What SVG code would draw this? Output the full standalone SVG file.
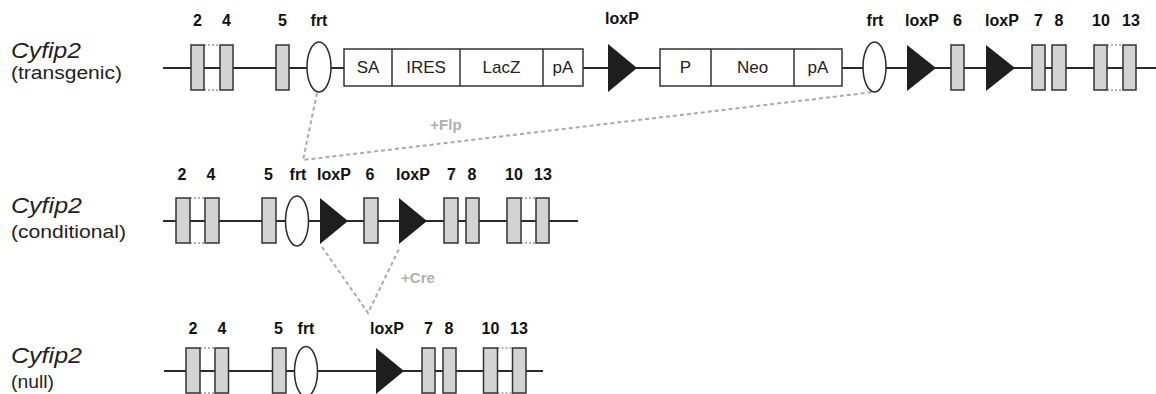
<svg xmlns="http://www.w3.org/2000/svg" width="1156" height="394" viewBox="0 0 1156 394">
<style>
.bg{fill:#fff}
.ln{stroke:#2a2a2a;stroke-width:1.8;fill:none}
.ex{fill:#d3d3d3;stroke:#333;stroke-width:1.5}
.br{stroke:#999;stroke-width:1.3;stroke-dasharray:2,2;fill:none}
.frt{fill:#fff;stroke:#2a2a2a;stroke-width:1.5}
.lox{fill:#1e1e1e}
.box{fill:#fff;stroke:#333;stroke-width:1.5}
.dv{stroke:#333;stroke-width:1.5}
.bt{font-family:"Liberation Sans",Arial,sans-serif;font-size:17px;fill:#222;text-anchor:middle}
.lb{font-family:"Liberation Sans",Arial,sans-serif;font-size:16px;font-weight:bold;fill:#111;text-anchor:middle}
.gn{font-family:"Liberation Sans",Arial,sans-serif;font-size:22px;font-style:italic;fill:#222}
.sub{font-family:"Liberation Sans",Arial,sans-serif;font-size:18px;fill:#222}
.dash{stroke:#aaa;stroke-width:2;stroke-dasharray:4,3;fill:none}
.op{font-family:"Liberation Sans",Arial,sans-serif;font-size:15px;font-weight:bold;fill:#b0b0b0;text-anchor:middle}
</style>
<rect class="bg" x="0" y="0" width="1156" height="394"/>

<g id="connectors">
<polyline class="dash" points="317,93 303,160 874,92"/>
<polyline class="dash" points="322,247 368,313 400,247"/>
<text class="op" x="446" y="130">+Flp</text>
<text class="op" x="418" y="283">+Cre</text>
</g>

<!-- Row 1: transgenic -->
<g id="row-transgenic">
<text class="gn" x="11" y="58" textLength="70" lengthAdjust="spacingAndGlyphs">Cyfip2</text>
<text class="sub" x="11" y="79" textLength="111" lengthAdjust="spacingAndGlyphs">(transgenic)</text>
<line class="ln" x1="163" y1="68" x2="1156" y2="68"/>
<g id="t-ex2-4">
<line class="br" x1="204" y1="45" x2="220" y2="45"/><line class="br" x1="204" y1="90" x2="220" y2="90"/>
<rect class="ex" x="191" y="45" width="13" height="45"/><rect class="ex" x="220" y="45" width="13" height="45"/>
<text class="lb" x="197.5" y="26">2</text><text class="lb" x="226.5" y="26">4</text>
</g>
<g id="t-ex5"><rect class="ex" x="276" y="45" width="13" height="45"/><text class="lb" x="282.5" y="26">5</text></g>
<g id="t-frt1"><ellipse class="frt" cx="319" cy="67" rx="12" ry="25"/><text class="lb" x="319" y="26">frt</text></g>
<g id="t-cassette1">
<rect class="box" x="344" y="49" width="239" height="37"/>
<line class="dv" x1="392" y1="49" x2="392" y2="86"/><line class="dv" x1="460" y1="49" x2="460" y2="86"/><line class="dv" x1="543" y1="49" x2="543" y2="86"/>
<text class="bt" x="368" y="73">SA</text><text class="bt" x="426" y="73">IRES</text><text class="bt" x="501.5" y="73">LacZ</text><text class="bt" x="563" y="73">pA</text>
</g>
<g id="t-lox1"><polygon class="lox" points="608,44 608,92 637,68"/><text class="lb" x="622" y="24">loxP</text></g>
<g id="t-cassette2">
<rect class="box" x="660" y="49" width="182" height="37"/>
<line class="dv" x1="711" y1="49" x2="711" y2="86"/><line class="dv" x1="794" y1="49" x2="794" y2="86"/>
<text class="bt" x="685.5" y="73">P</text><text class="bt" x="752.5" y="73">Neo</text><text class="bt" x="818" y="73">pA</text>
</g>
<g id="t-frt2"><ellipse class="frt" cx="874.5" cy="67" rx="11.5" ry="25"/><text class="lb" x="875" y="26">frt</text></g>
<g id="t-lox2"><polygon class="lox" points="907,45 907,91 936,68"/><text class="lb" x="922" y="26">loxP</text></g>
<g id="t-ex6"><rect class="ex" x="951" y="45" width="13" height="45"/><text class="lb" x="957.5" y="26">6</text></g>
<g id="t-lox3"><polygon class="lox" points="986,45 986,91 1015,68"/><text class="lb" x="1002" y="26">loxP</text></g>
<g id="t-ex7"><rect class="ex" x="1032" y="45" width="13" height="45"/><text class="lb" x="1038.5" y="26">7</text></g>
<g id="t-ex8"><rect class="ex" x="1052" y="45" width="14" height="45"/><text class="lb" x="1059" y="26">8</text></g>
<g id="t-ex10-13">
<line class="br" x1="1107" y1="45" x2="1123" y2="45"/><line class="br" x1="1107" y1="90" x2="1123" y2="90"/>
<rect class="ex" x="1094" y="45" width="13" height="45"/><rect class="ex" x="1123" y="45" width="13" height="45"/>
<text class="lb" x="1101" y="26">10</text><text class="lb" x="1131" y="26">13</text>
</g>
</g>

<!-- Row 2: conditional -->
<g id="row-conditional">
<text class="gn" x="11" y="213" textLength="71" lengthAdjust="spacingAndGlyphs">Cyfip2</text>
<text class="sub" x="11" y="238" textLength="115" lengthAdjust="spacingAndGlyphs">(conditional)</text>
<line class="ln" x1="163" y1="221" x2="578" y2="221"/>
<g id="c-ex2-4">
<line class="br" x1="190" y1="198" x2="205" y2="198"/><line class="br" x1="190" y1="243" x2="205" y2="243"/>
<rect class="ex" x="176" y="198" width="14" height="45"/><rect class="ex" x="205" y="198" width="14" height="45"/>
<text class="lb" x="182" y="180">2</text><text class="lb" x="211" y="180">4</text>
</g>
<g id="c-ex5"><rect class="ex" x="262" y="198" width="14" height="45"/><text class="lb" x="268.5" y="180">5</text></g>
<g id="c-frt"><ellipse class="frt" cx="297" cy="221" rx="11.5" ry="25"/><text class="lb" x="298" y="180">frt</text></g>
<g id="c-lox1"><polygon class="lox" points="320,198 320,244 348,221"/><text class="lb" x="334" y="180">loxP</text></g>
<g id="c-ex6"><rect class="ex" x="364" y="198" width="14" height="45"/><text class="lb" x="370" y="180">6</text></g>
<g id="c-lox2"><polygon class="lox" points="399,198 399,244 427,221"/><text class="lb" x="413" y="180">loxP</text></g>
<g id="c-ex7"><rect class="ex" x="444" y="198" width="14" height="45"/><text class="lb" x="451.5" y="180">7</text></g>
<g id="c-ex8"><rect class="ex" x="466" y="198" width="13" height="45"/><text class="lb" x="472" y="180">8</text></g>
<g id="c-ex10-13">
<line class="br" x1="521" y1="198" x2="536" y2="198"/><line class="br" x1="521" y1="243" x2="536" y2="243"/>
<rect class="ex" x="507" y="198" width="14" height="45"/><rect class="ex" x="536" y="198" width="13" height="45"/>
<text class="lb" x="514" y="180">10</text><text class="lb" x="543" y="180">13</text>
</g>
</g>

<!-- Row 3: null -->
<g id="row-null">
<text class="gn" x="11" y="363" textLength="71" lengthAdjust="spacingAndGlyphs">Cyfip2</text>
<text class="sub" x="11" y="388" textLength="43" lengthAdjust="spacingAndGlyphs">(null)</text>
<line class="ln" x1="164" y1="371" x2="543" y2="371"/>
<g id="n-ex2-4">
<line class="br" x1="200" y1="348" x2="215" y2="348"/><line class="br" x1="200" y1="393" x2="215" y2="393"/>
<rect class="ex" x="186" y="348" width="14" height="45"/><rect class="ex" x="215" y="348" width="13.5" height="45"/>
<text class="lb" x="193" y="333.5">2</text><text class="lb" x="222" y="333.5">4</text>
</g>
<g id="n-ex5"><rect class="ex" x="272.5" y="348" width="13.5" height="45"/><text class="lb" x="278.5" y="333.5">5</text></g>
<g id="n-frt"><ellipse class="frt" cx="306" cy="371.5" rx="11.5" ry="25"/><text class="lb" x="306" y="333.5">frt</text></g>
<g id="n-lox"><polygon class="lox" points="376,348 376,394 404,371"/><text class="lb" x="387" y="333.5">loxP</text></g>
<g id="n-ex7"><rect class="ex" x="422" y="348" width="13" height="45"/><text class="lb" x="428.5" y="333.5">7</text></g>
<g id="n-ex8"><rect class="ex" x="443" y="348" width="13" height="45"/><text class="lb" x="449" y="333.5">8</text></g>
<g id="n-ex10-13">
<line class="br" x1="497.5" y1="348" x2="512.5" y2="348"/><line class="br" x1="497.5" y1="393" x2="512.5" y2="393"/>
<rect class="ex" x="483.5" y="348" width="14" height="45"/><rect class="ex" x="512.5" y="348" width="13.5" height="45"/>
<text class="lb" x="490.5" y="333.5">10</text><text class="lb" x="519" y="333.5">13</text>
</g>
</g>
</svg>
